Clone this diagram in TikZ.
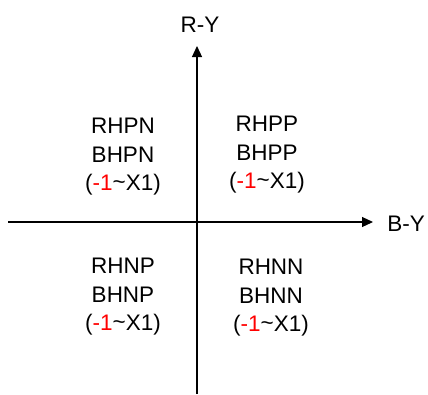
\documentclass[tikz,border=0pt]{standalone}
\usepackage{fontspec}
\setmainfont{Liberation Sans}
\usetikzlibrary{arrows.meta, positioning}
\tikzset{
  quad/.style = {align=center, font=\fontsize{22.5}{28.5}\selectfont, inner sep=0pt},
  axlabel/.style = {font=\fontsize{22.5}{24}\selectfont, inner sep=0pt},
  axis/.style = {-{Triangle[length=11pt,width=10pt]}, line width=1.2pt}
}
\newcommand{\rng}{(\textcolor{red}{-1}\raisebox{0.15ex}{\textasciitilde}X1)}

\begin{document}
\begin{tikzpicture}[x=1pt, y=-1pt]
\useasboundingbox (0,0) rectangle (428,394);

% axes
\coordinate (xl) at (8,222);
\coordinate (xr) at (373,222);
\coordinate (yb) at (197,394);
\coordinate (yt) at (197,46);
\draw[axis] (xl) -- (xr);
\draw[axis] (yb) -- (yt);

\node[axlabel] (ry) at (200,25) {R-Y};
\node[axlabel] (by) at (406,224) {B-Y};

% quadrants
\node[quad] (q2) at (123,157) {RHPN\\BHPN\\\rng};
\node[quad] (q1) at (267,155) {RHPP\\BHPP\\\rng};
\node[quad] (q3) at (123,297) {RHNP\\BHNP\\\rng};
\node[quad] (q4) at (271,298) {RHNN\\BHNN\\\rng};

\end{tikzpicture}
\end{document}
